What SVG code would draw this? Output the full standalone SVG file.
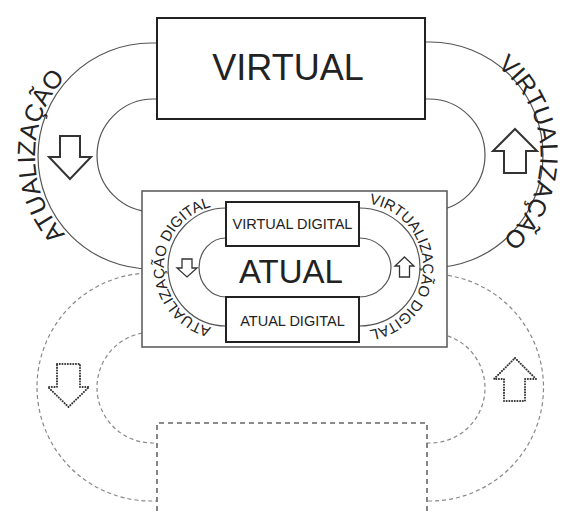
<svg xmlns="http://www.w3.org/2000/svg" xmlns:xlink="http://www.w3.org/1999/xlink" width="565" height="511" viewBox="0 0 565 511">
<style>
.t{font-family:"Liberation Sans",Arial,sans-serif;fill:#222}
.arc{fill:none;stroke:#555;stroke-width:1.2}
.dash{fill:none;stroke:#888;stroke-width:1.2;stroke-dasharray:4 3}
.dashbox{fill:none;stroke:#666;stroke-width:1.6;stroke-dasharray:5 4}
.box{fill:#fff;stroke:#222;stroke-width:2}
.mbox{fill:#fff;stroke:#555;stroke-width:1.5}
.arrow{fill:#fff;stroke:#333;stroke-width:2}
.sarrow{fill:#fff;stroke:#333;stroke-width:1.3}
.darrow{fill:none;stroke:#333;stroke-width:2;stroke-dasharray:0.1 2.6;stroke-linecap:round}
</style>
<defs>
<path id="pAtu" d="M151,272 A116,116 0 0 1 151,40"/>
<path id="pVir" d="M428,42.5 A112.5,112.5 0 0 1 428,267.5"/>
<path id="pAtuD" d="M226,329 A62,62 0 0 1 226,205"/>
<path id="pVirD" d="M359,203 A64,64 0 0 1 359,331"/>
</defs>
<g id="connectors">
<path class="arc" d="M157,43 L151,43 A113,113 0 0 0 151,269 L142,269"/>
<path class="arc" d="M157,99 L153.5,99 A56.5,56.5 0 0 0 153.5,212 L142,212"/>
<path class="arc" d="M425,42 L430,42 A113,113 0 0 1 430,268 L447,268"/>
<path class="arc" d="M425,99 L429,99 A56,56 0 0 1 429,211 L447,211"/>
<path class="dash" d="M142,273 L151,273 A114,114 0 0 0 151,501 L157,501"/>
<path class="dash" d="M142,332 L152.5,332 A55.5,55.5 0 0 0 152.5,443 L157,443"/>
<path class="dash" d="M447,274 L430,274 A113.5,113.5 0 0 1 430,501 L426,501"/>
<path class="dash" d="M447,333 L430,333 A55,55 0 0 1 430,443 L426,443"/>
</g>
<g id="atualizacao">
<text class="t" font-size="25"><textPath xlink:href="#pAtu" startOffset="50%" text-anchor="middle">ATUALIZAÇÃO</textPath></text>
<polygon class="arrow" points="60,136 80,136 80,157 91,157 70,179 49,157 60,157"/>
</g>
<g id="virtualizacao">
<text class="t" font-size="25"><textPath xlink:href="#pVir" startOffset="49%" text-anchor="middle">VIRTUALIZAÇÃO</textPath></text>
<polygon class="arrow" points="515,129 537,151 526,151 526,173 504,173 504,151 493,151"/>
</g>
<g id="virtual">
<rect class="box" x="157" y="18" width="268" height="101"/>
<text class="t" x="288" y="80" font-size="36" text-anchor="middle">VIRTUAL</text>
</g>
<g id="atual">
<rect class="mbox" x="142" y="191" width="305" height="156"/>
<path class="arc" d="M226,238 A27,29.5 0 0 0 226,297"/>
<path class="arc" d="M359,238 A32,29.5 0 0 1 359,297"/>
<path class="arc" d="M226,208 A58,59 0 0 0 226,326"/>
<path class="arc" d="M359,208 A61,59 0 0 1 359,326"/>
<text class="t" font-size="15"><textPath xlink:href="#pAtuD" startOffset="50%" text-anchor="middle">ATUALIZAÇÃO DIGITAL</textPath></text>
<text class="t" font-size="15"><textPath xlink:href="#pVirD" startOffset="50%" text-anchor="middle">VIRTUALIZAÇÃO DIGITAL</textPath></text>
<polygon class="sarrow" points="182,259 192,259 192,268 197,268 187,277 177,268 182,268"/>
<polygon class="sarrow" points="404.5,257 414,266 409.5,266 409.5,277 399.5,277 399.5,266 395,266"/>
<text class="t" x="291" y="283" font-size="33" text-anchor="middle">ATUAL</text>
</g>
<g id="virtual-digital">
<rect class="box" x="226" y="202" width="133" height="44"/>
<text class="t" x="292.5" y="228.5" font-size="14.5" text-anchor="middle">VIRTUAL DIGITAL</text>
</g>
<g id="atual-digital">
<rect class="box" x="226" y="297" width="133" height="45"/>
<text class="t" x="292.5" y="325.5" font-size="14.5" text-anchor="middle">ATUAL DIGITAL</text>
</g>
<g id="future">
<path class="dashbox" d="M157,511 L157,423 L427,423 L427,511"/>
<polygon class="darrow" points="57,364 80,364 80,387 89,387 68.5,407 48,387 57,387"/>
<polygon class="darrow" points="515,358 536,379 525,379 525,401 504,401 504,379 494,379"/>
</g>
</svg>
